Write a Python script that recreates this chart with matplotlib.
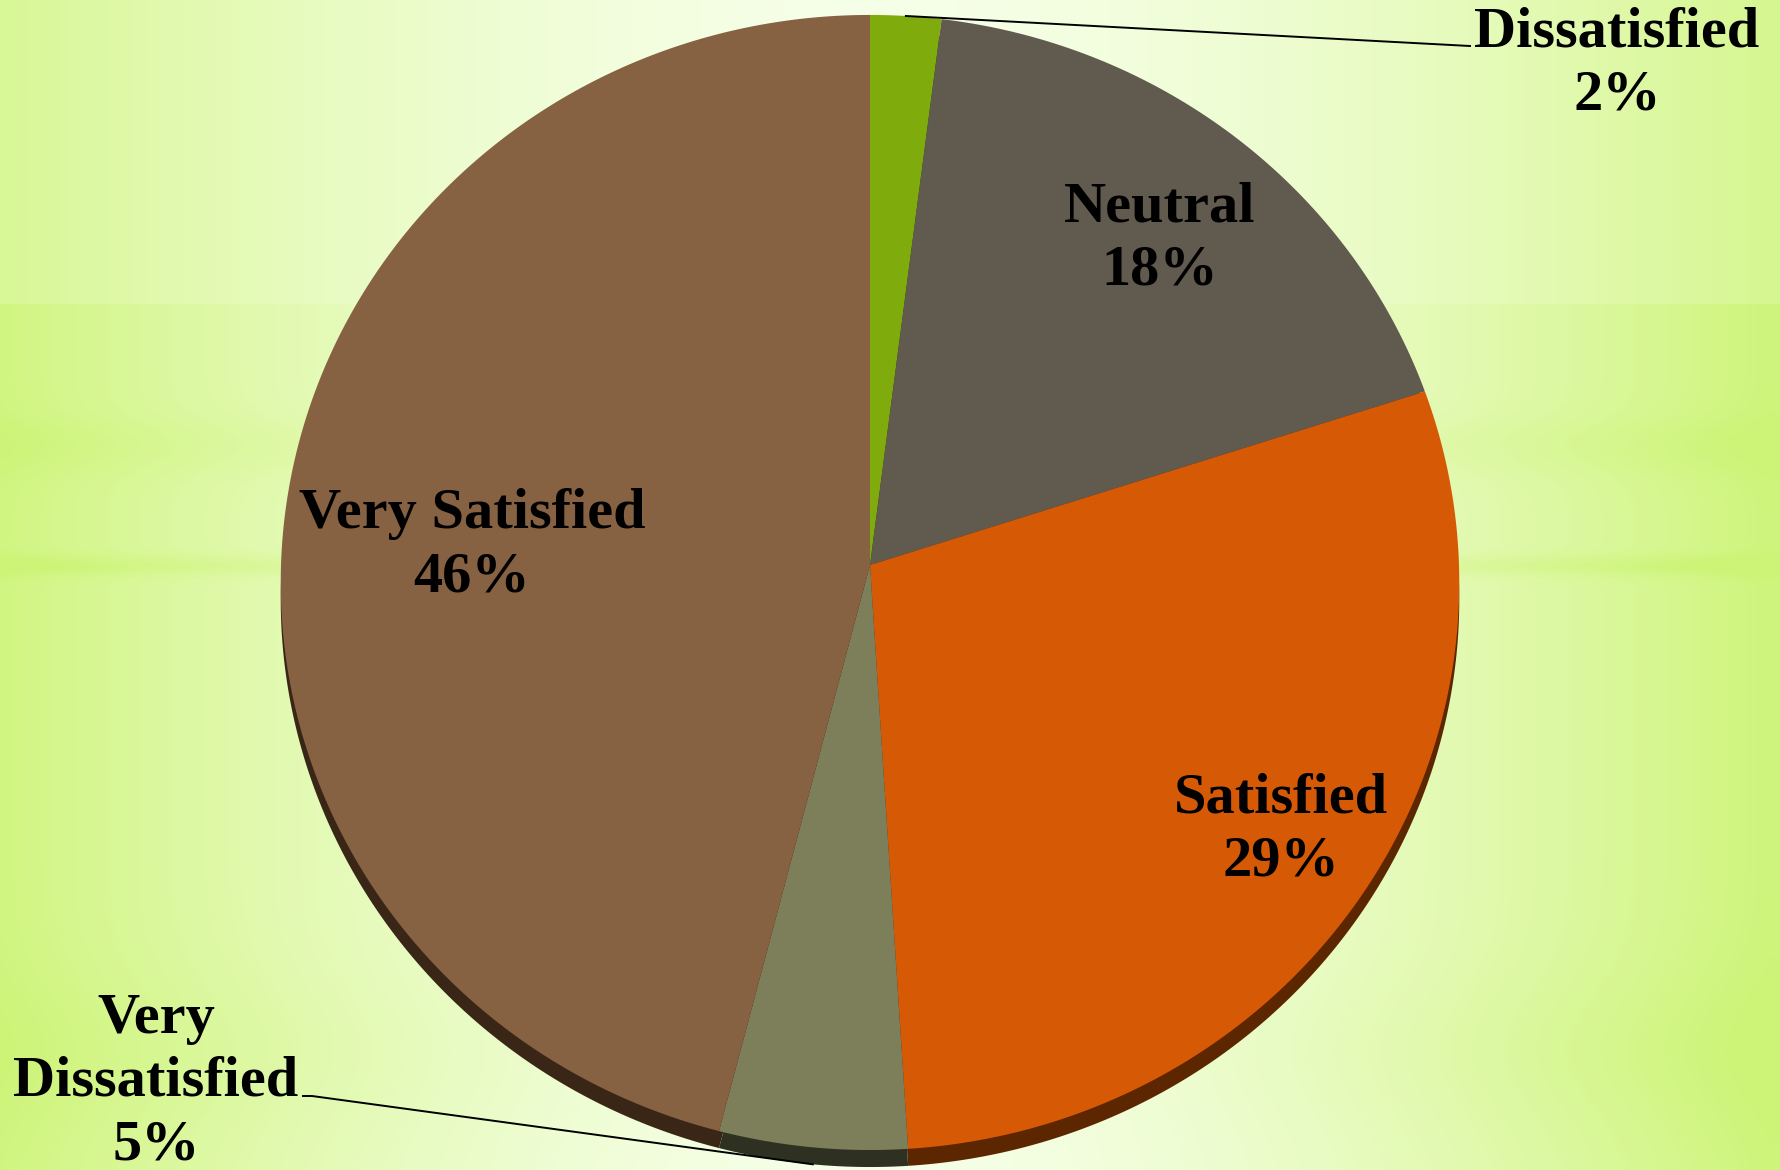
import numpy as np
import matplotlib
matplotlib.use("Agg")
import matplotlib.pyplot as plt
from matplotlib.patches import Polygon

# survey answers, clockwise from 12 o'clock
labels = ["Dissatisfied", "Neutral", "Satisfied", "Very\nDissatisfied", "Very Satisfied"]
shares = [2, 18, 29, 5, 46]
face_colors = ["#80ab0c", "#615a4e", "#d65a05", "#7d7e5a", "#866142"]
edge_colors = ["#2f3d05", "#26221c", "#5c2600", "#2e3122", "#3a2616"]

W, H = 1781, 1170
fig = plt.figure(figsize=(W / 100, H / 100), dpi=100)

# one axes in pixel units, y pointing down like the picture
ax = fig.add_axes([0, 0, 1, 1])
ax.set_xlim(0, W)
ax.set_ylim(H, 0)
ax.axis("off")

# background: pale green wash, greener towards the edges, with a few soft bands
xx, yy = np.meshgrid(np.arange(W), np.arange(H))
side = np.clip(np.abs(xx - 870) / 500.0, 0, 1)
g = 0.95 * np.clip(np.abs(xx - 870) / 900.0, 0, 1) ** 1.6
g = np.where(yy < 304, g * 0.8, g)
g = g + 0.18 * np.exp(-((yy - 565) / 10.0) ** 2) * side
g = g + 0.10 * np.exp(-((yy - 445) / 30.0) ** 2) * side
g = g + 0.10 * np.exp(-((yy - 1050) / 80.0) ** 2) * np.clip(np.abs(xx - 870) / 700.0, 0, 1)
g = np.clip(g, 0, 1)[..., None]
light = np.array([246, 255, 232]) / 255.0
green = np.array([205, 244, 118]) / 255.0
ax.imshow(light * (1 - g) + green * g, extent=(0, W, H, 0), aspect="auto",
          interpolation="bilinear", zorder=0)
ax.set_xlim(0, W)
ax.set_ylim(H, 0)

# tilted disc seen in perspective: far (top) half a little squashed
hx, hy = 870, 565      # hub
rx, ry = 589, 567      # radii
persp = 0.0308
drop = 17              # thickness of the dark side wall


def rim(a):
    den = 1 + persp * np.cos(a)
    return hx + rx * np.sin(a) / den, hy - ry * np.cos(a) / den


edges = 2 * np.pi * np.concatenate([[0], np.cumsum(shares)]) / np.sum(shares)


def wedge(a0, a1, dy, color, z):
    t = np.linspace(a0, a1, max(int((a1 - a0) * 90), 4))
    px, py = rim(t)
    pts = np.vstack([[hx, hy + dy], np.column_stack([px, py + dy])])
    return Polygon(pts, closed=True, facecolor=color, edgecolor="none", zorder=z)


for i in range(len(shares)):
    ax.add_patch(wedge(edges[i], edges[i + 1], drop, edge_colors[i], 2))
for i in range(len(shares)):
    ax.add_patch(wedge(edges[i], edges[i + 1], 0, face_colors[i], 3))

fnt = dict(family="Liberation Serif", weight="bold", fontsize=42, color="black",
           ha="center", va="center", linespacing=1.28, zorder=10)
text_pos = [(1617, 64), (1160, 239), (1281, 830), (156, 1082), (472, 546)]
for lab, val, (tx, ty) in zip(labels, shares, text_pos):
    ax.text(tx, ty, "%s\n%d%%" % (lab, val), **fnt)

# leader lines for the two thin slices
mid = (edges[:-1] + edges[1:]) / 2
x0, y0 = rim(mid[0])
ax.plot([x0, 1470], [y0, 46], color="black", lw=1.4, zorder=5)
x3, y3 = rim(mid[3])
ax.plot([x3, 312, 303], [y3 + drop, 1096, 1096], color="black", lw=1.4, zorder=5,
        clip_on=False)

fig.savefig("out.png", dpi=100)
